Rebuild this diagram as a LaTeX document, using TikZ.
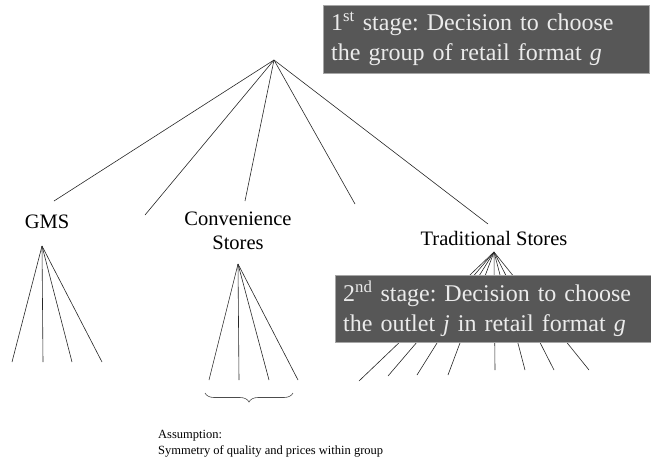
\documentclass[tikz,border=0pt]{standalone}
\usepackage{fontspec}
\setmainfont{Liberation Serif}
\usetikzlibrary{decorations.pathreplacing}
\frenchspacing

\begin{document}
\begin{tikzpicture}[x=1pt,y=-1pt,font=\fontsize{20.5}{23.5}\selectfont]
\tikzset{
  stagebox/.style={anchor=north west,fill=black!66,draw=black!35,text=black!8,align=left,inner xsep=8pt,inner ysep=0pt,font=\fontsize{24}{30}\selectfont},
  label/.style={align=center,inner sep=0pt},
  branch/.style={draw=black!85,line width=0.6pt},
  note/.style={anchor=north west,align=left,inner sep=0pt,font=\fontsize{12.5}{16.5}\selectfont},
  brace/.style={draw=black!70,line width=0.6pt,decorate,decoration={brace,mirror,amplitude=9pt}}
}
\useasboundingbox (0,0) rectangle (651,466);

% first stage
\coordinate (root) at (274,60);
\node(gms)[label] at (47,222){GMS};
\node(conv)[label] at (238,231){Convenience\\Stores};
\node(trad)[label] at (494,238){Traditional Stores};
\coordinate (b1) at (54,201);
\coordinate (b2) at (145,215);
\coordinate (b3) at (245,201);
\coordinate (b4) at (355,204);
\coordinate (b5) at (488,224);
\foreach \b in {b1,b2,b3,b4,b5} \draw[branch](root)--(\b);

% second stage
\coordinate (gtop) at (42,246);
\coordinate (ctop) at (238,264);
\coordinate (ttop) at (494,252);
\foreach \x [count=\i] in {12,43,72,102} \coordinate (g\i) at (\x,362);
\foreach \x [count=\i] in {209,239,269,298} \coordinate (c\i) at (\x,380);
\foreach \x/\y [count=\i] in {359/381,388/376,417/375,448/375,495/370,525/370,554/370,589/370} \coordinate (t\i) at (\x,\y);
\foreach \i in {1,...,4} {\draw[branch](gtop)--(g\i); \draw[branch](ctop)--(c\i);}
\foreach \i in {1,...,8} \draw[branch](ttop)--(t\i);

\node(s1)[stagebox,minimum width=326pt,minimum height=68pt,text width=310pt] at (323,5){\mbox{1\textsuperscript{st} stage: Decision to choose}\\\mbox{the group of retail format \textit{g}}};
\node(s2)[stagebox,minimum width=316pt,minimum height=67pt,text width=300pt] at (335,275){\mbox{2\textsuperscript{nd} stage: Decision to choose}\\\mbox{the outlet \textit{j} in retail format \textit{g}}};

\coordinate (bl) at (205,393);
\coordinate (br) at (293,393);
\draw[brace](bl)--(br);
\node(asm)[note] at (158,430){Assumption:\\Symmetry of quality and prices within group};
\end{tikzpicture}
\end{document}
